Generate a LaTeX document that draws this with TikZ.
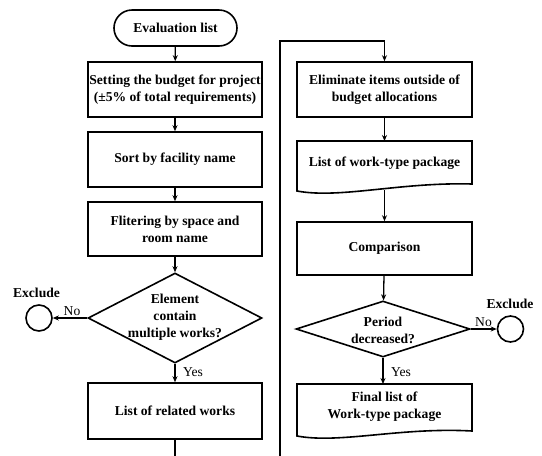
\documentclass[tikz,border=0pt]{standalone}
\usepackage{fontspec}
\setmainfont{Liberation Serif}
\usetikzlibrary{shapes.geometric,arrows.meta}
\begin{document}
\begin{tikzpicture}[x=1pt,y=-1pt,
  base/.style={font=\fontsize{13.6}{17}\selectfont\bfseries, align=center, inner sep=0pt},
  box/.style={base, draw, line width=1.6pt, minimum width=174pt},
  term/.style={base, draw, line width=1.6pt, minimum width=123pt, minimum height=36pt, rounded corners=18pt},
  dia/.style={draw, diamond, line width=1.6pt, inner sep=0pt},
  circ/.style={draw, circle, line width=1.6pt, minimum size=26pt, inner sep=0pt},
  lbl/.style={font=\fontsize{13.6}{16}\selectfont, inner sep=0pt},
  blbl/.style={font=\fontsize{13.6}{16}\selectfont\bfseries, inner sep=0pt},
  arr/.style={-{Stealth[length=6pt,width=5pt]}, line width=1.3pt},
  ln/.style={line width=1.3pt},
  docline/.style={line width=1.6pt}]
\useasboundingbox (0,0) rectangle (542,456);
% left column
\node[term] (t0) at (175.5,28) {Evaluation list};
\node[box, minimum height=55pt] (b1) at (175,89.5) {Setting the budget for project\\(±5\% of total requirements)};
\node[box, minimum height=55pt] (b2) at (175,159.5) {Sort by facility name};
\node[box, minimum height=54pt] (b3) at (175,229) {Flitering by space and\\room name};
\node[dia, minimum width=174pt, minimum height=90pt] (d1) at (175,318) {};
\node[base] (d1t) at (175,317) {Element\\contain\\multiple works?};
\node[box, minimum height=56pt] (b4) at (175,411) {List of related works};
\node[circ] (c1) at (39,318) {};
\node[blbl] (x1) at (36.5,293) {Exclude};
\node[lbl] (n1) at (72,311) {No};
\node[lbl] (y1) at (193,372) {Yes};
\coordinate (e1) at (175,456);
% right column
\coordinate (e2) at (280,456);
\coordinate (k1) at (280,41);
\coordinate (k2) at (384.5,41);
\node[box, minimum width=175pt, minimum height=55pt] (b5) at (384.5,89.5) {Eliminate items outside of\\budget allocations};
\draw[docline] (297,191) -- (297,141) -- (472,141) -- (472,184) .. controls (400,182) and (340,199) .. (297,191) -- cycle;
\node[base] (doc6) at (384.5,163) {List of work-type package};
\coordinate (doc6b) at (384.5,189.5);
\node[box, minimum width=175pt, minimum height=53pt] (b7) at (384.5,248.5) {Comparison};
\node[dia, minimum width=174pt, minimum height=56pt] (d2) at (383,329) {};
\node[base] (d2t) at (383,330) {Period\\decreased?};
\node[circ] (c2) at (510.5,329) {};
\node[blbl] (x2) at (510,304) {Exclude};
\node[lbl] (n2) at (483.5,322) {No};
\node[lbl] (y2) at (401,372) {Yes};
\draw[docline] (297,436) -- (297,384) -- (472,384) -- (472,431) .. controls (400,427) and (340,444) .. (297,436) -- cycle;
\node[base] (doc8) at (384.5,406.5) {Final list of\\Work-type package};
\coordinate (doc8t) at (383,384);
% connectors
\draw[arr] (t0) -- (b1);
\draw[arr] (b1) -- (b2);
\draw[arr] (b2) -- (b3);
\draw[arr] (b3) -- (d1);
\draw[arr] (d1) -- (b4);
\draw[arr] (d1.west) -- (c1.east);
\draw[ln] (b4.south) -- (e1);
\draw[ln] (e2) -- (k1) -- (k2);
\draw[arr] (k2) -- (b5.north);
\draw[arr] (b5) -- (doc6.north |- 0,141);
\draw[arr] (doc6b) -- (b7.north);
\draw[arr] (b7) -- (d2);
\draw[arr] (d2.east) -- (c2.west);
\draw[arr] (d2.south) -- (doc8t);
\end{tikzpicture}
\end{document}
